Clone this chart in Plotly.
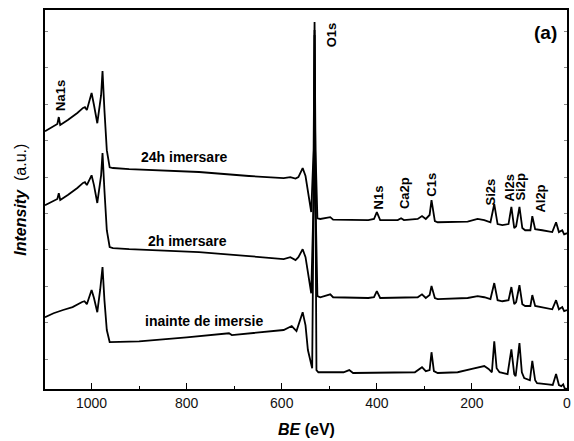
import plotly.graph_objects as go

# XPS survey spectra of the glass surface, binding energy (eV) vs intensity (a.u.)
be_24h = [1098, 1085, 1072, 1069, 1066, 1050, 1030, 1018, 1014, 1010, 1000, 995, 988, 980, 977,
          973, 968, 962, 955, 921, 774, 669, 596, 582, 571, 565, 556, 550, 542, 538, 533, 531,
          529, 525, 519, 498, 492, 418, 406, 400, 393, 356, 349, 343, 314, 305, 297, 289, 285,
          278, 272, 209, 188, 174, 161, 153, 146, 136, 123, 117, 111, 107, 100, 94, 88, 77, 73,
          67, 52, 31, 23, 17, 10, 6, 0]
int_24h = [6.26, 6.35, 6.46, 6.65, 6.43, 6.57, 6.76, 6.90, 6.92, 6.84, 7.31, 6.98, 6.48, 7.25, 7.91,
           6.84, 5.74, 5.27, 5.25, 5.22, 5.14, 5.03, 4.97, 5.00, 4.96, 5.00, 5.25, 5.03, 4.37, 4.04,
           5.74, 9.26, 5.74, 3.87, 3.85, 3.90, 3.83, 3.82, 3.85, 4.04, 3.82, 3.82, 3.87, 3.82, 3.85,
           3.93, 3.85, 3.96, 4.37, 3.79, 3.76, 3.78, 3.85, 3.82, 3.76, 4.26, 3.71, 3.68, 3.71, 4.18,
           3.60, 3.65, 4.18, 3.60, 3.54, 3.54, 3.93, 3.57, 3.54, 3.49, 3.76, 3.49, 3.54, 3.43, 3.46]

be_2h = [1098, 1085, 1072, 1069, 1066, 1050, 1030, 1018, 1014, 1010, 1000, 995, 988, 980, 977,
         973, 968, 962, 955, 921, 774, 669, 596, 582, 571, 565, 556, 550, 542, 538, 533, 531,
         529, 525, 519, 498, 492, 418, 406, 400, 393, 314, 305, 297, 289, 285, 278, 272, 209,
         188, 174, 161, 153, 146, 136, 123, 117, 111, 107, 100, 94, 88, 77, 73, 67, 52, 31, 23,
         17, 10, 6, 0]
int_2h = [4.23, 4.31, 4.40, 4.56, 4.37, 4.51, 4.70, 4.84, 4.86, 4.78, 5.05, 4.78, 4.29, 5.05, 5.66,
          4.64, 3.54, 3.08, 3.05, 3.02, 2.94, 2.83, 2.75, 2.80, 2.72, 2.80, 3.02, 2.80, 2.17, 1.81,
          4.37, 9.04, 4.37, 1.73, 1.70, 1.78, 1.70, 1.68, 1.70, 1.87, 1.68, 1.70, 1.78, 1.68, 1.76,
          2.01, 1.68, 1.65, 1.68, 1.73, 1.70, 1.65, 2.09, 1.62, 1.59, 1.62, 1.98, 1.51, 1.57, 2.03,
          1.51, 1.46, 1.46, 1.76, 1.46, 1.43, 1.37, 1.62, 1.37, 1.43, 1.32, 1.35]

be_ref = [1098, 1080, 1060, 1040, 1020, 1015, 1010, 1000, 995, 988, 982, 977, 973, 968, 962, 952,
          900, 800, 720, 711, 705, 650, 596, 579, 569, 556, 550, 545, 538, 536, 533, 531, 529,
          527, 523, 470, 458, 450, 320, 305, 297, 289, 285, 280, 272, 230, 200, 174, 165, 158,
          153, 148, 142, 125, 117, 111, 108, 100, 95, 90, 78, 73, 67, 63, 40, 30, 23, 17, 12, 8,
          5, 0]
int_ref = [1.15, 1.26, 1.35, 1.43, 1.57, 1.59, 1.51, 1.90, 1.68, 1.29, 1.90, 2.53, 1.62, 0.80, 0.47,
           0.47, 0.49, 0.60, 0.69, 0.71, 0.66, 0.74, 0.80, 0.91, 0.77, 1.29, 0.93, 0.25, -0.22,
           -0.25, 4.37, 8.90, 4.37, -0.30, -0.36, -0.36, -0.30, -0.38, -0.36, -0.22, -0.33, -0.30,
           0.19, -0.33, -0.38, -0.36, -0.27, -0.19, -0.27, -0.36, 0.49, -0.25, -0.36, -0.41, 0.27,
           -0.41, -0.47, 0.44, -0.36, -0.52, -0.58, -0.05, -0.58, -0.66, -0.69, -0.71, -0.41, -0.71,
           -0.74, -0.69, -0.80, -0.82]

# peak assignments: label, BE position, label height
peak_names = ["Na1s", "O1s", "N1s", "Ca2p", "C1s", "Si2s", "Al2s", "Si2p", "Al2p"]
peak_be = [1067, 496, 397, 343, 285, 161, 121, 98, 56]
peak_y = [7.25, 8.90, 4.45, 4.56, 4.78, 4.59, 4.70, 4.75, 4.42]

# spectrum captions
sample_names = ["24h imersare", "2h imersare", "inainte de imersie"]
sample_be = [805, 799, 764]
sample_y = [5.55, 3.24, 1.04]

FONT = "Arial, Liberation Sans, sans-serif"

fig = go.Figure()
for be, inten in [(be_24h, int_24h), (be_2h, int_2h), (be_ref, int_ref)]:
    fig.add_trace(go.Scatter(x=be, y=inten, mode="lines",
                             line=dict(color="black", width=1.8), showlegend=False))

for name, x, y in zip(peak_names, peak_be, peak_y):
    fig.add_annotation(x=x, y=y, text="<b>%s</b>" % name, textangle=-90, showarrow=False,
                       font=dict(family=FONT, size=13, color="black"),
                       xanchor="center", yanchor="middle")

for name, x, y in zip(sample_names, sample_be, sample_y):
    fig.add_annotation(x=x, y=y, text="<b>%s</b>" % name, showarrow=False,
                       font=dict(family=FONT, size=14, color="black"),
                       xanchor="center", yanchor="middle")

fig.add_annotation(x=46, y=8.98, text="<b>(a)</b>", showarrow=False,
                   font=dict(family=FONT, size=19, color="black"),
                   xanchor="center", yanchor="middle")

# axis titles
fig.add_annotation(xref="paper", yref="paper", x=-0.0475, y=0.5,
                   text="<b><i>Intensity</i></b>  (a.u.)", textangle=-90, showarrow=False,
                   font=dict(family=FONT, size=16, color="black"),
                   xanchor="center", yanchor="middle")
fig.add_annotation(xref="paper", yref="paper", x=0.5, y=-0.108,
                   text="<b><i>BE</i> (eV)</b>", showarrow=False,
                   font=dict(family=FONT, size=16, color="black"),
                   xanchor="center", yanchor="middle")

fig.update_layout(
    width=574, height=441,
    margin=dict(l=45, r=3, t=10, b=52),
    paper_bgcolor="white", plot_bgcolor="white",
    font=dict(family=FONT, size=14, color="black"),
)
fig.update_xaxes(range=[1098, 0], dtick=200, tick0=0, ticks="inside", ticklen=6, tickwidth=1.2,
                 tickcolor="black", showline=True, linecolor="black", linewidth=1.5, mirror=True,
                 showgrid=False, zeroline=False,
                 tickfont=dict(family=FONT, size=14, color="#111"),
                 minor=dict(dtick=100, ticks="inside", ticklen=3, tickcolor="black", tickwidth=1.2))
fig.update_yaxes(range=[-0.82, 9.59], dtick=1, tick0=0, ticks="inside", ticklen=3, tickwidth=1,
                 tickcolor="#888", showline=True, linecolor="black", linewidth=1.5, mirror="ticks",
                 showgrid=False, zeroline=False, showticklabels=False)

fig.write_html("out.html")
